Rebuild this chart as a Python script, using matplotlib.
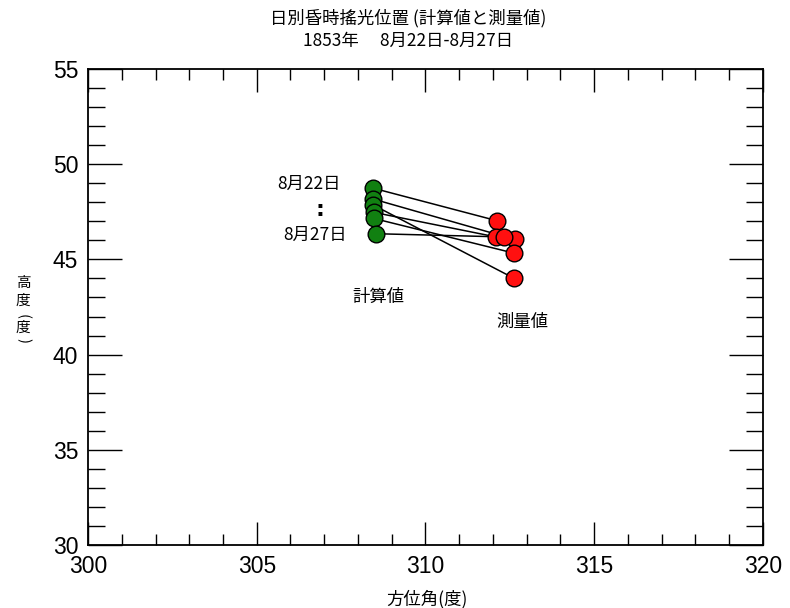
import matplotlib
matplotlib.use('Agg')
import matplotlib.pyplot as plt
from matplotlib.ticker import MultipleLocator

plt.rcParams['font.family'] = ['Noto Sans CJK JP', 'DejaVu Sans']

# data: calculated (green) vs measured (red), 8/22 .. 8/27
days = ['8月22日', '8月23日', '8月24日', '8月25日', '8月26日', '8月27日']
calc_az = [308.45, 308.45, 308.45, 308.47, 308.47, 308.52]
calc_alt = [48.74, 48.17, 47.86, 47.47, 47.15, 46.35]
meas_az = [312.12, 312.64, 312.62, 312.09, 312.62, 312.33]
meas_alt = [47.03, 46.05, 44.01, 46.18, 45.33, 46.18]

fig = plt.figure(figsize=(7.9, 6.08), dpi=100)
ax = fig.add_axes([0.1114, 0.1036, 0.8544, 0.7829])

for i in range(len(days)):
    ax.plot([calc_az[i], meas_az[i]], [calc_alt[i], meas_alt[i]],
            color='black', lw=1.1, zorder=2)
for i in range(len(days)):
    ax.plot(calc_az[i], calc_alt[i], 'o', ms=12, mfc='#118011',
            mec='black', mew=1.0, zorder=3)
for i in range(len(days)):
    ax.plot(meas_az[i], meas_alt[i], 'o', ms=12, mfc='#ff1010',
            mec='black', mew=1.0, zorder=4)

ax.set_xlim(300, 320)
ax.set_ylim(30, 55)
ax.xaxis.set_major_locator(MultipleLocator(5))
ax.xaxis.set_minor_locator(MultipleLocator(1))
ax.yaxis.set_major_locator(MultipleLocator(5))
ax.yaxis.set_minor_locator(MultipleLocator(1))
ax.tick_params(which='both', direction='in', top=True, right=True,
               labelsize=16.5, width=1.0)
ax.tick_params(axis='x', which='major', length=16.5, pad=7)
ax.tick_params(axis='x', which='minor', length=8)
ax.tick_params(axis='y', which='major', length=24.5, pad=7)
ax.tick_params(axis='y', which='minor', length=12)
for lab in ax.get_xticklabels() + ax.get_yticklabels():
    lab.set_family(['Liberation Sans', 'DejaVu Sans'])
for sp in ax.spines.values():
    sp.set_linewidth(1.3)

# annotations
ax.text(307.5, 48.96, days[0], ha='right', va='center', fontsize=12.5)
ax.text(306.87, 47.6, ':', ha='center', va='center', fontsize=16,
        fontweight='bold', family='DejaVu Sans')
ax.text(307.66, 46.28, days[-1], ha='right', va='center', fontsize=12.5)
ax.text(308.6, 43.03, '計算値', ha='center', va='center', fontsize=12.5)
ax.text(312.86, 41.7, '測量値', ha='center', va='center', fontsize=12.5)

fig.text(0.517, 0.970, '日別昏時搖光位置 (計算値と測量値)', ha='center',
         va='center', fontsize=12.5)
fig.text(0.517, 0.932, '1853年\u3000 8月22日-8月27日', ha='center',
         va='center', fontsize=12.5)
fig.text(0.541, 0.014, '方位角(度)', ha='center', va='center', fontsize=12.5)

# vertical y label, one glyph at a time (parens turned for vertical writing)
ylab_chars = ['高', '度', '(', '度', ')']
ylab_y = [283, 301, 316, 328, 341]
for ch, py in zip(ylab_chars, ylab_y):
    rot = -90 if ch in '()' else 0
    fig.text(23 / 790, 1 - py / 608, ch, ha='center', va='center',
             fontsize=10.5, rotation=rot)

fig.savefig('out.png', dpi=100)
